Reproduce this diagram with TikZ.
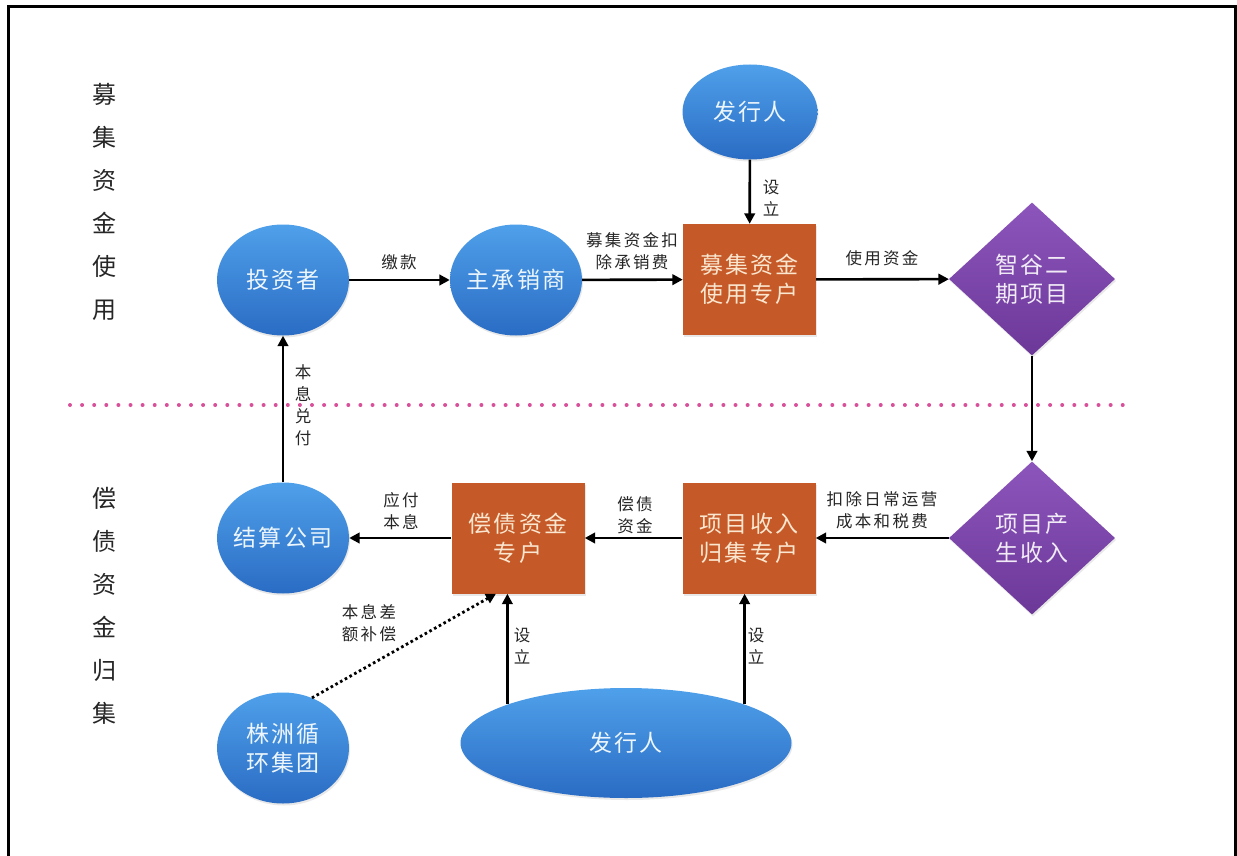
\documentclass[tikz,border=0pt]{standalone}
\usepackage{fontspec}
\newfontfamily\cjk{Noto Sans CJK SC}
\newfontfamily\cjkwide{Noto Sans CJK SC}[LetterSpace=9]
\newfontfamily\cjklabel{Noto Sans CJK SC}[LetterSpace=14]
\usetikzlibrary{arrows.meta,shapes.geometric,shadows}

\definecolor{ellTop}{HTML}{4FA0EA}
\definecolor{ellBot}{HTML}{2A6CC4}
\definecolor{boxFill}{HTML}{C55A28}
\definecolor{diaTop}{HTML}{8C55BC}
\definecolor{diaBot}{HTML}{6C3898}
\definecolor{dotPink}{HTML}{D9509A}
\definecolor{cream}{HTML}{FBE6D0}

\tikzset{
  shapetext/.style={font=\cjkwide\fontsize{23}{29}\selectfont, align=center, inner sep=0pt},
  blueell/.style={shapetext, ellipse, inner xsep=-14pt, top color=ellTop, bottom color=ellBot, draw=none,
    text=white!90!ellTop, minimum width=132pt, minimum height=111pt,
    drop shadow={opacity=0.18, shadow xshift=1pt, shadow yshift=-2pt}},
  acctbox/.style={shapetext, rectangle, fill=boxFill, text=cream,
    minimum width=133pt, minimum height=111pt,
    drop shadow={opacity=0.18, shadow xshift=1pt, shadow yshift=-2pt}},
  projdia/.style={shapetext, diamond, top color=diaTop, bottom color=diaBot, text=white!88!diaTop,
    minimum width=166pt, minimum height=153pt,
    drop shadow={opacity=0.18, shadow xshift=1pt, shadow yshift=-2pt}},
  flow/.style={line width=2.6pt, -{Triangle[length=10.5pt,width=10.5pt]}},
  dotflow/.style={line width=2.8pt, dash pattern=on 2.6pt off 2.8pt,
    -{Triangle[length=10pt,width=10pt]}},
  lbl/.style={font=\cjklabel\fontsize{16.5}{22}\selectfont, align=center, inner sep=0pt, text=black!85},
  sidelbl/.style={font=\cjk\fontsize{24}{43}\selectfont, align=center, inner sep=0pt, text=black!85},
}

\begin{document}
\begin{tikzpicture}[x=1pt, y=-1pt]
\useasboundingbox (0,0) rectangle (1237,856);
\fill[white] (0,0) rectangle (1237,856);

% outer frame, open at the bottom
\draw[line width=3pt] (8.5,856) -- (8.5,6.5) -- (1235,6.5) -- (1235,856);

% section separator
\draw[dotPink, line width=4pt, line cap=round, dash pattern=on 0pt off 12.1pt]
  (70,405) -- (1128,405);

% section titles
\node[sidelbl] (secA) at (104,202) {募\\集\\资\\金\\使\\用};
\node[sidelbl] (secB) at (104,606) {偿\\债\\资\\金\\归\\集};

% fund-raising stage
\node[blueell, minimum width=135pt, minimum height=95pt] (pubtop) at (750,112) {发行人};
\node[blueell] (inv) at (283,280) {投资者};
\node[blueell] (uw) at (516,280) {主承销商};
\node[acctbox] (acc1) at (749.5,279.5) {募集资金\\使用专户};
\node[projdia] (proj) at (1032,279) {智谷二\\期项目};

% repayment stage
\node[projdia] (rev) at (1032,538) {项目产\\生收入};
\node[acctbox] (acc3) at (749,538) {项目收入\\归集专户};
\node[acctbox] (acc2) at (518,538) {偿债资金\\专户};
\node[blueell] (clr) at (283,538) {结算公司};
\node[blueell] (zz) at (283,748) {株洲循\\环集团};
\node[blueell, minimum width=331pt, minimum height=110pt] (pubbot) at (626,743) {发行人};

% connectors
\draw[flow] (pubtop) -- (acc1);
\draw[flow] (inv) -- (uw);
\draw[flow] (uw) -- (acc1);
\draw[flow] (acc1) -- (proj);
\draw[flow] (proj) -- (rev);
\draw[flow] (rev) -- (acc3);
\draw[flow] (acc3) -- (acc2);
\draw[flow] (acc2) -- (clr);
\draw[flow] (clr) -- (inv);
\coordinate (acc2in) at ([xshift=-22pt]acc2.south);
\draw[dotflow] (zz.60) -- (acc2in);
\draw[flow] (pubbot.162) -- (pubbot.162 |- acc2.south);
\draw[flow] (pubbot.18) -- (pubbot.18 |- acc3.south);

% connector labels
\node[lbl] (l1) at (771,198) {设\\立};
\node[lbl] (l2) at (399,262) {缴款};
\node[lbl] (l3) at (632,251) {募集资金扣\\除承销费};
\node[lbl] (l4) at (882,258) {使用资金};
\node[lbl] (l5) at (882,510) {扣除日常运营\\成本和税费};
\node[lbl] (l6) at (635,515) {偿债\\资金};
\node[lbl] (l7) at (401,511) {应付\\本息};
\node[lbl] (l8) at (303,405) {本\\息\\兑\\付};
\node[lbl] (l9) at (369,623) {本息差\\额补偿};
\node[lbl] (l10) at (522,646) {设\\立};
\node[lbl] (l11) at (756,646) {设\\立};
\end{tikzpicture}
\end{document}
